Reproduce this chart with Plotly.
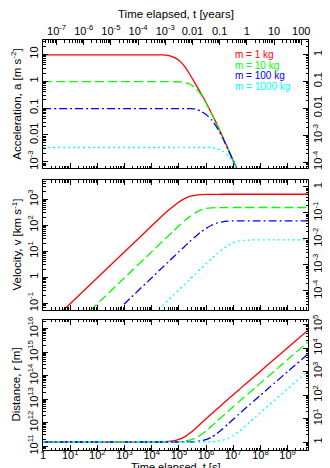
import plotly.graph_objects as go

# ---------------- data ----------------
t_s = [1, 10, 100, 1e3, 1e4, 2.5e4, 4e4, 6.3e4, 1e5, 1.6e5, 2.5e5, 4e5, 6.3e5,
       1e6, 1.6e6, 2.5e6, 4e6, 6.3e6, 1e7, 1.6e7, 2.5e7, 4e7, 6.3e7, 1e8,
       3.2e8, 1e9, 5.6e9]
t_acc = [1, 10, 100, 1e3, 1e4, 2.5e4, 4e4, 6.3e4, 1e5, 1.6e5, 2.5e5, 4e5, 6.3e5,
         1e6, 1.6e6, 2.5e6, 4e6, 6.3e6, 1e7, 1.6e7, 2.5e7, 4e7]

labels = ["m = 1 kg", "m = 10 kg", "m = 100 kg", "m = 1000 kg"]

acc_1 = [9.5, 9.5, 9.5, 9.5, 9.5, 9.45, 9.0, 7.8, 6.0, 3.6, 1.8, 0.81, 0.37,
         0.16, 0.062, 0.025, 0.0089, 0.0032, 0.0011, 3.8e-4, 1.4e-4, 5e-5]
acc_10 = [0.955, 0.955, 0.955, 0.955, 0.955, 0.955, 0.955, 0.95, 0.94, 0.89, 0.78,
          0.56, 0.33, 0.15, 0.060, 0.0245, 0.0087, 0.0031, 0.00108, 3.8e-4, 1.4e-4, 5e-5]
acc_100 = [0.0955, 0.0955, 0.0955, 0.0955, 0.0955, 0.0955, 0.0955, 0.0955, 0.0955,
           0.0955, 0.0955, 0.092, 0.077, 0.057, 0.036, 0.019, 0.0080, 0.0030,
           0.00107, 3.8e-4, 1.4e-4, 5e-5]
acc_1000 = [0.0034, 0.0034, 0.0034, 0.0034, 0.0034, 0.0034, 0.0034, 0.0034, 0.0034,
            0.0034, 0.0034, 0.0034, 0.0034, 0.0034, 0.0034, 0.0031, 0.0025, 0.0017,
            0.00095, 3.6e-4, 1.35e-4, 5e-5]

vel_1 = [0.0095, 0.095, 0.95, 9.5, 95, 237, 370, 540, 780, 1050, 1280, 1420, 1500,
         1540, 1550, 1553, 1555, 1555, 1555, 1555, 1555, 1555, 1555, 1555, 1555, 1555, 1555]
vel_10 = [9.55e-4, 0.00955, 0.0955, 0.955, 9.55, 24, 38, 60, 95, 148, 215, 300, 385,
          440, 468, 478, 480, 481, 482, 482, 482, 482, 482, 482, 482, 482, 482]
vel_100 = [9.55e-5, 9.55e-4, 0.00955, 0.0955, 0.955, 2.4, 3.8, 6.0, 9.5, 15, 23.5, 36,
           54, 76, 100, 121, 135, 143, 147, 148, 148, 148, 148, 148, 148, 148, 148]
vel_1000 = [3.3e-6, 3.3e-5, 3.3e-4, 0.0033, 0.033, 0.083, 0.13, 0.21, 0.33, 0.52, 0.83,
            1.32, 2.08, 3.3, 5.2, 8.0, 11.8, 16.5, 21, 24.5, 26.3, 27, 27.2, 27.3,
            27.3, 27.3, 27.3]

dist_1 = [1.496e11, 1.496e11, 1.496e11, 1.496e11, 1.496e11, 1.526e11, 1.571e11,
          1.676e11, 1.92e11, 2.47e11, 3.52e11, 5.55e11, 8.9e11, 1.45e12, 2.38e12,
          3.77e12, 6.1e12, 9.67e12, 1.54e13, 2.47e13, 3.87e13, 6.2e13, 9.77e13,
          1.55e14, 4.96e14, 1.55e15, 8.68e15]
dist_10 = [1.496e11, 1.496e11, 1.496e11, 1.496e11, 1.496e11, 1.499e11, 1.504e11,
           1.515e11, 1.544e11, 1.617e11, 1.78e11, 2.17e11, 2.96e11, 4.48e11, 7.2e11,
           1.146e12, 1.865e12, 2.97e12, 4.76e12, 7.65e12, 1.2e13, 1.92e13, 3.03e13,
           4.81e13, 1.54e14, 4.82e14, 2.7e15]
dist_100 = [1.496e11, 1.496e11, 1.496e11, 1.496e11, 1.496e11, 1.496e11, 1.497e11,
            1.498e11, 1.501e11, 1.508e11, 1.526e11, 1.572e11, 1.68e11, 1.88e11,
            2.41e11, 3.4e11, 5.32e11, 8.5e11, 1.39e12, 2.28e12, 3.61e12, 5.83e12,
            9.2e12, 1.47e13, 4.73e13, 1.48e14, 8.3e14]
dist_1000 = [1.496e11, 1.496e11, 1.496e11, 1.496e11, 1.496e11, 1.496e11, 1.496e11,
             1.496e11, 1.496e11, 1.497e11, 1.497e11, 1.498e11, 1.503e11, 1.513e11,
             1.538e11, 1.6e11, 1.75e11, 2.08e11, 2.77e11, 4.13e11, 6.42e11, 1.04e12,
             1.66e12, 2.67e12, 8.67e12, 2.73e13, 1.53e14]

# tick labels
xs_vals = [1, 10, 1e2, 1e3, 1e4, 1e5, 1e6, 1e7, 1e8, 1e9]
xs_text = ["1"] + ["10<sup>%d</sup>" % k for k in range(1, 10)]
xy_vals = [1e-7, 1e-6, 1e-5, 1e-4, 1e-3, 0.01, 0.1, 1, 10, 100]
xy_text = ["10<sup>-7</sup>", "10<sup>-6</sup>", "10<sup>-5</sup>", "10<sup>-4</sup>",
           "10<sup>-3</sup>", "0.01", "0.1", "1", "10", "100"]
a_vals = [1e-3, 0.01, 0.1, 1, 10]
a_text = ["10<sup>-3</sup>", "0.01", "0.1", "1", "10"]
g_vals = [1e-4, 1e-3, 0.01, 0.1, 1]
g_text = ["10<sup>-4</sup>", "10<sup>-3</sup>", "0.01", "0.1", "1"]
v_vals = [0.1, 1, 10, 100, 1000]
v_text = ["10<sup>-1</sup>", "1", "10<sup>1</sup>", "10<sup>2</sup>", "10<sup>3</sup>"]
c_vals = [1e-4, 1e-3, 1e-2, 1e-1, 1]
c_text = ["10<sup>-4</sup>", "10<sup>-3</sup>", "10<sup>-2</sup>", "10<sup>-1</sup>", "1"]
r_vals = [1e11, 1e12, 1e13, 1e14, 1e15, 1e16]
r_text = ["10<sup>%d</sup>" % k for k in range(11, 17)]
au_vals = [1, 10, 1e2, 1e3, 1e4, 1e5]
au_text = ["1", "10<sup>1</sup>", "10<sup>2</sup>", "10<sup>3</sup>", "10<sup>4</sup>", "10<sup>5</sup>"]

# ---------------- style ----------------
FONT = "Liberation Sans, Arial, Helvetica, sans-serif"
colors = ["#ff0000", "#00ff00", "#0000ff", "#00ffff"]
dashes = ["solid", "9px,4px", "8px,3px,2px,3px", "2px,3px"]
LW = 1.3

fig = go.Figure()
acc = [acc_1, acc_10, acc_100, acc_1000]
vel = [vel_1, vel_10, vel_100, vel_1000]
dist = [dist_1, dist_10, dist_100, dist_1000]
for i in range(4):
    ln = dict(color=colors[i], width=LW, dash=dashes[i], shape="spline", smoothing=0.6)
    fig.add_trace(go.Scatter(x=t_acc, y=acc[i], mode="lines", line=ln, xaxis="x", yaxis="y",
                             showlegend=False, name=labels[i]))
    fig.add_trace(go.Scatter(x=t_s, y=vel[i], mode="lines", line=ln, xaxis="x2", yaxis="y3",
                             showlegend=False, name=labels[i]))
    fig.add_trace(go.Scatter(x=t_s, y=dist[i], mode="lines", line=ln, xaxis="x3", yaxis="y5",
                             showlegend=False, name=labels[i]))

# empty carrier traces so the secondary (overlaying) axes are drawn
for xa, ya in [("x4", "y"), ("x", "y2"), ("x2", "y4"), ("x3", "y6")]:
    fig.add_trace(go.Scatter(x=[], y=[], mode="lines", xaxis=xa, yaxis=ya,
                             showlegend=False, hoverinfo="skip"))


def minors(lo, hi):
    return [m * 10.0 ** k for k in range(lo, hi) for m in range(2, 10)]


def axis(rng, vals, text, mlo, mhi, **kw):
    d = dict(type="log", range=rng, autorange=False, showgrid=False, zeroline=False,
             showline=True, linecolor="black", linewidth=1, ticks="inside", ticklen=5,
             tickwidth=1, tickcolor="black", tickmode="array", tickvals=vals, ticktext=text,
             tickfont=dict(family=FONT, size=11, color="black"),
             minor=dict(ticks="inside", ticklen=2.5, tickwidth=1, tickcolor="black",
                        tickmode="array", tickvals=minors(mlo, mhi), showgrid=False))
    d.update(kw)
    return d


XR = [0, 9.75]
D1 = [0.6866, 1.0]
D2 = [0.3415, 0.6585]
D3 = [0.0, 0.3171]

fig.update_layout(
    width=330, height=468,
    margin=dict(l=35, r=30, t=32, b=26, autoexpand=False),
    paper_bgcolor="white", plot_bgcolor="white",
    font=dict(family=FONT, size=11, color="black"),
    xaxis=axis(XR, xs_vals, xs_text, 0, 10, anchor="y", domain=[0, 1],
               showticklabels=False, mirror=False),
    xaxis2=axis(XR, xs_vals, xs_text, 0, 10, anchor="y3", domain=[0, 1],
                showticklabels=False, mirror="ticks"),
    xaxis3=axis(XR, xs_vals, xs_text, 0, 10, anchor="y5", domain=[0, 1],
                mirror="ticks", ticklabelstandoff=-5),
    xaxis4=axis([-7.499, 2.251], xy_vals, xy_text, -8, 3, overlaying="x", side="top",
                anchor="y"),
    yaxis=axis([-3.25, 1.53], a_vals, a_text, -4, 2, domain=D1, anchor="x", tickangle=-90),
    yaxis2=axis([-4.2415, 0.5385], g_vals, g_text, -5, 1, overlaying="y", side="right",
                anchor="x", tickangle=-90),
    yaxis3=axis([-1.26, 3.74], v_vals, v_text, -2, 4, domain=D2, anchor="x2", tickangle=-90),
    yaxis4=axis([-4.7368, 0.2632], c_vals, c_text, -5, 1, overlaying="y3", side="right",
                anchor="x2", tickangle=-90),
    yaxis5=axis([10.835, 16.37], r_vals, r_text, 10, 17, domain=D3, anchor="x3", tickangle=-90),
    yaxis6=axis([-0.3399, 5.1951], au_vals, au_text, -1, 6, overlaying="y5", side="right",
                anchor="x3", tickangle=-90),
)

TF = dict(family=FONT, size=11.5, color="black")
TFs = dict(family=FONT, size=11, color="black")
# axis titles as annotations (paper coords; plot area spans 35..300 px, 32..442 px)
titles = [
    ("Time elapsed, t [years]", 0.5, 1.0634, 0, TF),
    ("Time elapsed, t [s]", 0.5, -0.0415, 0, TFs),
    ("Acceleration, a [m s<sup>-2</sup>]", -0.100, 0.8433, -90, TF),
    ("Velocity, v [km s<sup>-1</sup>]", -0.100, 0.50, -90, TF),
    ("Distance, r [m]", -0.100, 0.1585, -90, TF),
    ("a [g]", 1.0679, 0.8433, -90, TFs),
    ("v [% c]", 1.0679, 0.50, -90, TFs),
    ("r [AU]", 1.0679, 0.1585, -90, TFs),
]
for txt, x, y, ang, f in titles:
    fig.add_annotation(x=x, y=y, xref="paper", yref="paper", text=txt, showarrow=False,
                       xanchor="center", yanchor="middle", textangle=ang, font=f,
                       borderpad=0)

leg_y = [0.9646, 0.939, 0.9134, 0.8878]
for i in range(4):
    fig.add_annotation(x=0.721, y=leg_y[i], xref="paper", yref="paper", text=labels[i],
                       showarrow=False, xanchor="left", yanchor="middle", borderpad=0,
                       font=dict(family=FONT, size=10, color=colors[i]))

fig.write_html("out.html")
